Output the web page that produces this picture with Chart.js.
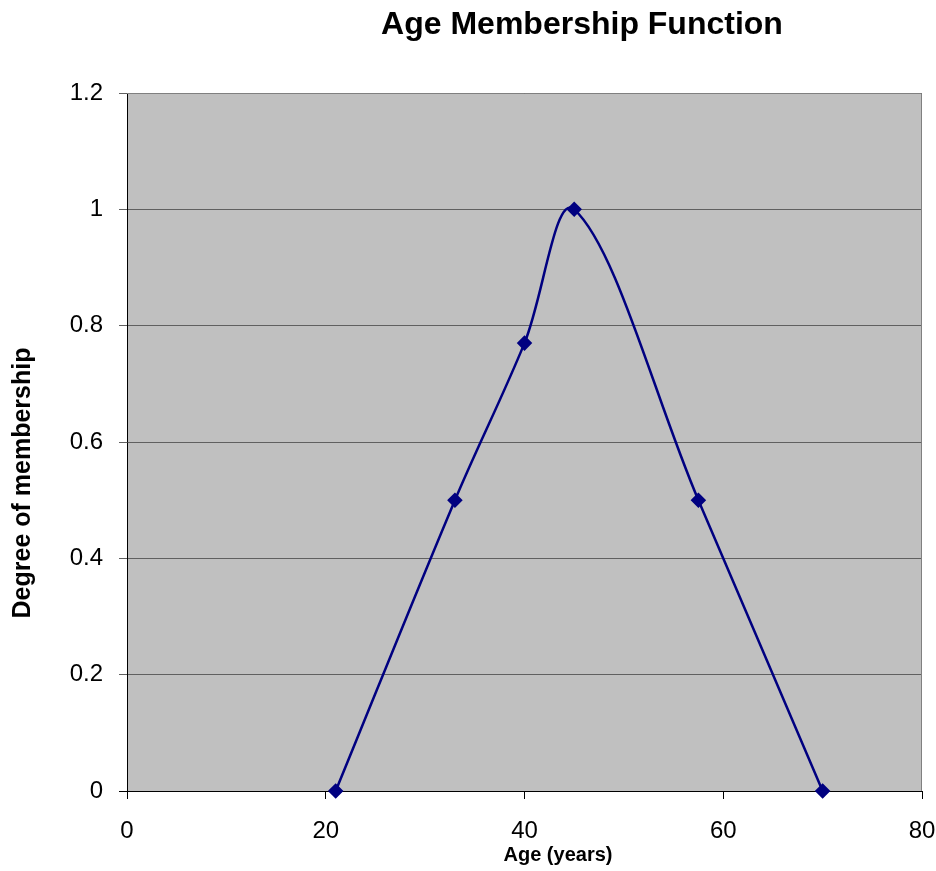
<!DOCTYPE html>
<html>
<head>
<meta charset="utf-8">
<script src="https://cdn.jsdelivr.net/npm/chart.js@4/dist/chart.umd.min.js"></script>
<style>
  html, body { margin: 0; padding: 0; background: #fff; }
  #ageChart { display: block; }
</style>
</head>
<body>
<canvas id="ageChart" width="936" height="871"></canvas>
<script>
// Age membership function values
const ages = [21, 33, 40, 45, 57.5, 70];
const membership = [0, 0.5, 0.77, 1, 0.5, 0];
const xTicks = [0, 20, 40, 60, 80];
const yTicks = [0, 0.2, 0.4, 0.6, 0.8, 1, 1.2];

const chartTitle = "Age Membership Function";
const xTitle = "Age (years)";
const yTitle = "Degree of membership";

const FONT = "Arial, 'Liberation Sans', sans-serif";

// grey plot area + titles drawn at their spots
const plotBackground = {
  id: "plotBackground",
  beforeDraw(chart) {
    const { ctx, chartArea: a } = chart;
    ctx.save();
    ctx.fillStyle = "#c0c0c0";
    ctx.fillRect(a.left, a.top, a.right - a.left, a.bottom - a.top);
    ctx.restore();
  },
  afterDraw(chart) {
    const { ctx } = chart;
    ctx.save();
    ctx.fillStyle = "#000";
    ctx.textAlign = "center";
    ctx.textBaseline = "middle";
    ctx.font = "bold 32px " + FONT;
    ctx.fillText(chartTitle, 582, 25);

    ctx.font = "bold 20px " + FONT;
    ctx.fillText(xTitle, 558, 855);

    ctx.translate(23, 483);
    ctx.rotate(-Math.PI / 2);
    ctx.font = "bold 25px " + FONT;
    ctx.fillText(yTitle, 0, 0);
    ctx.restore();
  },
  beforeDatasetsDraw(chart) {
    const { ctx, chartArea: a } = chart;
    // frame on top / right
    ctx.save();
    ctx.strokeStyle = "#808080";
    ctx.lineWidth = 1;
    ctx.beginPath();
    ctx.moveTo(a.left, a.top + 0.5);
    ctx.lineTo(a.right - 0.5, a.top + 0.5);
    ctx.lineTo(a.right - 0.5, a.bottom);
    ctx.stroke();
    ctx.restore();
  }
};

const ctx = document.getElementById("ageChart").getContext("2d");

const ageChart = new Chart(ctx, {
  type: "line",
  data: {
    datasets: [
      {
        label: "Membership",
        data: ages.map((a, i) => ({ x: a, y: membership[i] })),
        borderColor: "#000080",
        backgroundColor: "#000080",
        borderWidth: 2.5,
        tension: 0.35,
        pointStyle: "rectRot",
        pointRadius: 6,
        pointHoverRadius: 6,
        fill: false,
        clip: false,
      },
    ],
  },
  options: {
    responsive: false,
    animation: false,
    devicePixelRatio: 1,
    layout: { padding: { top: 93, right: 0, left: 0, bottom: 0 } },
    plugins: {
      legend: { display: false },
      title: { display: false },
      tooltip: { enabled: false },
    },
    scales: {
      x: {
        type: "linear",
        min: 0,
        max: 80,
        afterBuildTicks(scale) {
          scale.ticks = xTicks.map(v => ({ value: v }));
        },
        afterFit(scale) {
          scale.height = 80;
          scale.paddingRight = 14;
          scale.paddingLeft = 0;
        },
        grid: {
          drawOnChartArea: false,
          drawTicks: true,
          tickLength: 8,
          color: "#000",
        },
        border: { color: "#000", width: 1 },
        ticks: {
          color: "#000",
          font: { family: FONT, size: 24 },
          padding: 18,
          maxRotation: 0,
        },
      },
      y: {
        min: 0,
        max: 1.2,
        afterBuildTicks(scale) {
          scale.ticks = yTicks.map(v => ({ value: v }));
        },
        afterFit(scale) { scale.width = 127; },
        grid: {
          color: (c) => (c.tick && c.tick.value === 0 ? "#000" : "#606060"),
          drawTicks: true,
          tickLength: 8,
        },
        border: { color: "#000", width: 1 },
        ticks: {
          color: "#000",
          font: { family: FONT, size: 24 },
          padding: 16,
          callback: (v) => String(Math.round(v * 10) / 10),
        },
      },
    },
  },
  plugins: [plotBackground],
});
</script>
</body>
</html>
